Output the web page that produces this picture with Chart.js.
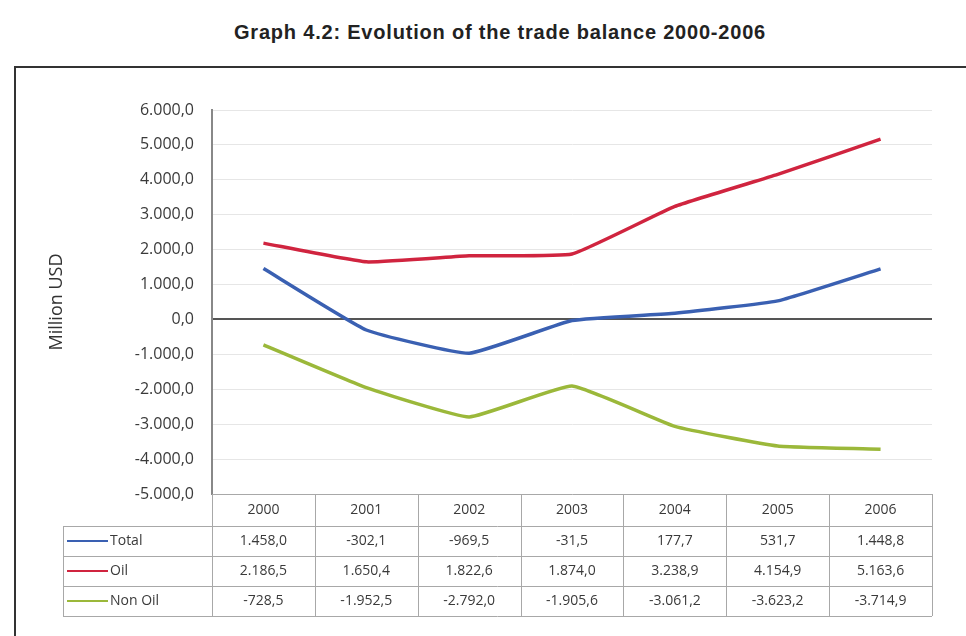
<!DOCTYPE html>
<html>
<head>
<meta charset="utf-8">
<script src="https://cdn.jsdelivr.net/npm/chart.js@4"></script>
<style>
  html, body { margin: 0; padding: 0; background: #fff; overflow: hidden; }
  #wrap { position: relative; width: 966px; height: 636px; }
  #title {
    position: absolute; left: 0; top: 21px; width: 1000px;
    text-align: center; font: bold 20px "Liberation Sans", Arial, sans-serif;
    letter-spacing: 0.8px; color: #222;
  }
  #frame {
    position: absolute; left: 14px; top: 66px; width: 1000px; height: 620px;
    border: 2px solid #333;
  }
  canvas { position: absolute; left: 0; top: 0; }
</style>
</head>
<body>
<div id="wrap">
  <div id="title">Graph 4.2: Evolution of the trade balance 2000-2006</div>
  <div id="frame"></div>
  <canvas id="tradeChart" width="966" height="636"></canvas>
</div>
<script>
// trade balance, million USD
const years = ["2000", "2001", "2002", "2003", "2004", "2005", "2006"];
const total = [1458.0, -302.1, -969.5, -31.5, 177.7, 531.7, 1448.8];
const oil = [2186.5, 1650.4, 1822.6, 1874.0, 3238.9, 4154.9, 5163.6];
const nonOil = [-728.5, -1952.5, -2792.0, -1905.6, -3061.2, -3623.2, -3714.9];
const seriesNames = ["Total", "Oil", "Non Oil"];
const seriesColors = ["#3a60b2", "#d0243f", "#9bb83a"];

// 1.458,0 style numbers
function fmt(v) {
  let neg = v < 0;
  let parts = Math.abs(v).toFixed(1).split(".");
  return (neg ? "-" : "") + parts[0].replace(/\B(?=(\d{3})+(?!\d))/g, ".") + "," + parts[1];
}

// data table under the plot, columns follow the x scale
const tablePlugin = {
  id: "dataTable",
  afterDraw(chart) {
    let ctx = chart.ctx;
    let area = chart.chartArea;
    let x = chart.scales.x;
    let colW = (area.right - area.left) / years.length;
    let headH = 32, rowH = 30;
    let top = area.bottom;
    let legendLeft = 63;
    let bottom = top + headH + rowH * chart.data.datasets.length;

    ctx.save();
    ctx.strokeStyle = "#a8a8a8";
    ctx.lineWidth = 1;

    // horizontal rules
    ctx.beginPath();
    for (let r = 0; r <= chart.data.datasets.length; r++) {
      let y = Math.round(top + headH + rowH * r) + 0.5;
      ctx.moveTo(legendLeft, y);
      ctx.lineTo(area.right, y);
    }
    // vertical rules
    for (let i = 0; i <= years.length; i++) {
      let xx = Math.round(area.left + colW * i) + 0.5;
      ctx.moveTo(xx, top);
      ctx.lineTo(xx, bottom);
    }
    ctx.moveTo(legendLeft + 0.5, top + headH);
    ctx.lineTo(legendLeft + 0.5, bottom);
    ctx.stroke();

    ctx.fillStyle = "#3a3a3a";
    ctx.font = "14px 'Open Sans'";
    ctx.textAlign = "center";
    ctx.textBaseline = "middle";
    years.forEach((yr, i) => {
      ctx.fillText(yr, x.getPixelForValue(i), top + headH / 2);
    });

    chart.data.datasets.forEach((ds, r) => {
      let cy = top + headH + rowH * r + rowH / 2;
      ctx.strokeStyle = ds.borderColor;
      ctx.lineWidth = 2;
      ctx.beginPath();
      ctx.moveTo(legendLeft + 4, cy);
      ctx.lineTo(legendLeft + 45, cy);
      ctx.stroke();
      ctx.textAlign = "left";
      ctx.fillText(ds.label, legendLeft + 47, cy);
      ctx.textAlign = "center";
      ds.data.forEach((v, i) => {
        ctx.fillText(fmt(v), x.getPixelForValue(i), cy);
      });
    });
    ctx.restore();
  }
};

new Chart(document.getElementById("tradeChart"), {
  type: "line",
  data: {
    labels: years,
    datasets: [total, oil, nonOil].map((d, i) => ({
      label: seriesNames[i],
      data: d,
      borderColor: seriesColors[i],
      backgroundColor: seriesColors[i],
      borderWidth: 3.5,
      pointRadius: 0,
      tension: 0.12,
      fill: false
    }))
  },
  options: {
    responsive: false,
    animation: false,
    devicePixelRatio: 1,
    layout: { padding: { left: 40, top: 110, right: 34, bottom: 142 } },
    plugins: {
      legend: { display: false },
      tooltip: { enabled: false }
    },
    scales: {
      x: {
        offset: true,
        ticks: { display: false },
        grid: { display: false, drawTicks: false },
        border: { display: true, color: "#a8a8a8", width: 1 }
      },
      y: {
        min: -5000,
        max: 6000,
        afterFit(scale) { scale.width = 172; },
        ticks: {
          stepSize: 1000,
          padding: 18,
          color: "#3a3a3a",
          font: { family: "'Open Sans'", size: 16 },
          callback: v => fmt(v)
        },
        grid: {
          drawTicks: false,
          color: c => c.tick && c.tick.value === 0 ? "#555" : "#e6e6e6",
          lineWidth: c => c.tick && c.tick.value === 0 ? 2 : 1
        },
        border: { display: true, color: "#888", width: 2 },
        title: {
          display: true,
          text: "Million USD",
          color: "#333",
          font: { family: "'Open Sans'", size: 18 },
          padding: { top: 6, bottom: 0 }
        }
      }
    }
  },
  plugins: [tablePlugin]
});
</script>
</body>
</html>
